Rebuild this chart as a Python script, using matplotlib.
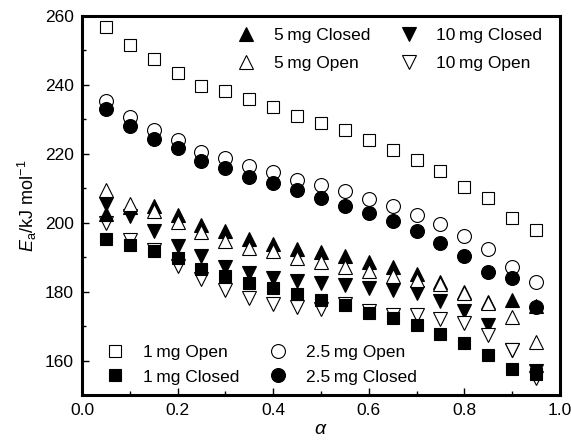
import matplotlib
matplotlib.use("Agg")
import matplotlib.pyplot as plt
from matplotlib.ticker import MultipleLocator

plt.rcParams['font.family'] = ['Liberation Sans', 'DejaVu Sans']
plt.rcParams['mathtext.fontset'] = 'custom'
plt.rcParams['mathtext.rm'] = 'Liberation Sans'
plt.rcParams['mathtext.it'] = 'Liberation Sans:italic'

alpha = [0.05, 0.10, 0.15, 0.20, 0.25, 0.30, 0.35, 0.40, 0.45, 0.50,
         0.55, 0.60, 0.65, 0.70, 0.75, 0.80, 0.85, 0.90, 0.95]

mg1_open = [256.9, 251.6, 247.4, 243.6, 239.7, 238.1, 235.9, 233.5, 231.0, 228.9,
            226.8, 224.0, 221.0, 218.3, 214.9, 210.5, 207.2, 201.4, 198.0]
mg1_closed = [195.3, 193.6, 191.7, 189.8, 186.6, 184.4, 182.5, 181.1, 179.4, 177.7,
              176.2, 173.8, 172.3, 170.4, 167.8, 165.1, 161.7, 157.4, 156.0]
mg25_open = [235.2, 230.6, 227.0, 224.0, 220.4, 218.7, 216.6, 214.7, 212.5, 211.0,
             209.1, 206.9, 204.9, 202.3, 199.7, 196.2, 192.4, 187.2, 182.7]
mg25_closed = [233.0, 228.1, 224.3, 221.6, 218.0, 215.9, 213.4, 211.5, 209.4, 207.3,
               204.9, 202.8, 200.4, 197.5, 194.1, 190.4, 185.6, 184.0, 175.5]
mg5_closed = [202.6, 204.5, 204.9, 202.3, 199.4, 197.5, 195.3, 193.8, 192.4, 191.4,
              190.2, 188.5, 187.2, 185.2, 182.8, 179.8, 177.0, 177.5, 175.7]
mg5_open = [209.6, 205.5, 203.3, 200.1, 197.2, 194.6, 192.7, 191.7, 189.8, 188.5,
            187.2, 185.9, 184.4, 183.5, 182.3, 179.6, 176.7, 172.7, 165.3]
mg10_closed = [205.5, 202.0, 197.5, 193.1, 190.2, 187.2, 185.4, 184.0, 183.0, 182.5,
               182.0, 181.1, 180.6, 179.6, 177.2, 174.3, 170.4, 163.0, 156.9]
mg10_open = [199.9, 195.0, 192.2, 187.5, 183.7, 180.4, 178.2, 176.5, 175.5, 175.0,
             176.5, 174.3, 173.3, 173.3, 172.1, 170.9, 167.5, 163.0, 155.0]

fig = plt.figure(figsize=(5.71, 4.40), dpi=100)
ax = fig.add_axes([0.1436, 0.1023, 0.8371, 0.8613])

ew = 0.8
sq = dict(marker='s', markersize=8.5, markeredgewidth=ew, markeredgecolor='black', linestyle='none')
ci = dict(marker='o', markersize=10, markeredgewidth=ew, markeredgecolor='black', linestyle='none')
up = dict(marker='^', markersize=10.5, markeredgewidth=ew, markeredgecolor='black', linestyle='none')
dn = dict(marker='v', markersize=10.5, markeredgewidth=ew, markeredgecolor='black', linestyle='none')

h1o, = ax.plot(alpha, mg1_open, markerfacecolor='white', label='1\u2009mg Open', **sq)
h25o, = ax.plot(alpha, mg25_open, markerfacecolor='white', label='2.5\u2009mg Open', **ci)
h25c, = ax.plot(alpha, mg25_closed, markerfacecolor='black', label='2.5\u2009mg Closed', **ci)
h10c, = ax.plot(alpha, mg10_closed, markerfacecolor='black', label='10\u2009mg Closed', **dn)
h10o, = ax.plot(alpha, mg10_open, markerfacecolor='white', label='10\u2009mg Open', **dn)
h1c, = ax.plot(alpha, mg1_closed, markerfacecolor='black', label='1\u2009mg Closed', **sq)
h5c, = ax.plot(alpha, mg5_closed, markerfacecolor='black', label='5\u2009mg Closed', **up)
h5o, = ax.plot(alpha, mg5_open, markerfacecolor='white', label='5\u2009mg Open', **up)

ax.set_xlim(0, 1.0)
ax.set_ylim(150, 260)
ax.xaxis.set_major_locator(MultipleLocator(0.2))
ax.xaxis.set_minor_locator(MultipleLocator(0.1))
ax.yaxis.set_major_locator(MultipleLocator(20))
ax.yaxis.set_minor_locator(MultipleLocator(10))
ax.tick_params(which='both', direction='in', top=False, right=False, labelsize=12.5, width=1.0)
ax.tick_params(which='major', length=5, pad=6)
ax.tick_params(which='minor', length=3)
ax.xaxis.set_major_formatter(matplotlib.ticker.FormatStrFormatter('%.1f'))
for s in ax.spines.values():
    s.set_linewidth(2.2)

ax.set_xlabel(r'$\alpha$', fontsize=14, labelpad=2)
ax.set_ylabel(r'$E_{\rm a}$/kJ mol$^{-1}$', fontsize=13, labelpad=4)

leg_kw = dict(frameon=False, fontsize=12.5, handlelength=1.0, handletextpad=1.1,
              columnspacing=1.7, borderaxespad=0.3, borderpad=0.3)
leg1 = ax.legend(handles=[h5c, h5o, h10c, h10o], ncol=2, loc='upper right',
                 bbox_to_anchor=(0.985, 0.995), labelspacing=0.72, **leg_kw)
ax.add_artist(leg1)
ax.legend(handles=[h1o, h1c, h25o, h25c], ncol=2, loc='lower left',
          bbox_to_anchor=(0.03, 0.0), labelspacing=0.55, **leg_kw)

fig.savefig('out.png', dpi=100)
